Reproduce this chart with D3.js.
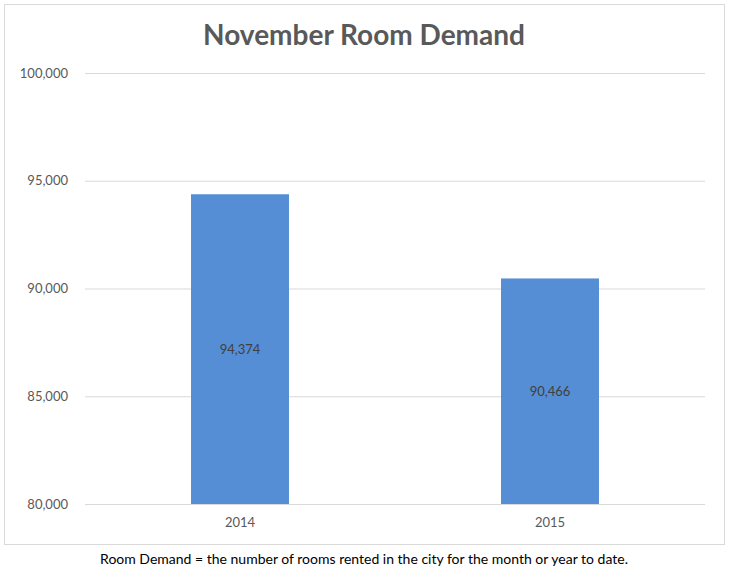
<!DOCTYPE html>
<html>
<head>
<meta charset="utf-8">
<script src="https://cdn.jsdelivr.net/npm/d3@7"></script>
<style>
  body { margin: 0; background: #fff; }
  svg { display: block; font-family: Lato, "Open Sans", sans-serif; }
</style>
</head>
<body>
<div id="chart"></div>
<script>
var years = ["2014", "2015"];
var demand = [94374, 90466];
var yTicks = [80000, 85000, 90000, 95000, 100000];

var W = 729, H = 573;
var margin = { top: 73, right: 24, bottom: 69, left: 85 },
    width = W - margin.left - margin.right,
    height = H - margin.top - margin.bottom;

var svg = d3.select("#chart")
    .append("svg")
    .attr("width", W)
    .attr("height", H);

// chart frame
svg.append("rect")
    .attr("x", 4.5).attr("y", 4.5)
    .attr("width", 720).attr("height", 540)
    .attr("fill", "#fff")
    .attr("stroke", "#d9d9d9");

svg.append("text")
    .attr("x", 364)
    .attr("y", 45)
    .attr("text-anchor", "middle")
    .style("font-size", "28px")
    .style("font-weight", "bold")
    .style("fill", "#595959")
    .text("November Room Demand");

var g = svg.append("g")
    .attr("transform", "translate(" + margin.left + "," + margin.top + ")");

var x = d3.scaleBand()
    .domain(years)
    .range([0, width])
    .paddingInner(0.684)
    .paddingOuter(0.342);

var y = d3.scaleLinear()
    .domain([80000, 100000])
    .range([height, 0]);

var fmt = d3.format(",");

var yAxis = g.append("g")
    .call(d3.axisLeft(y).tickValues(yTicks).tickFormat(fmt).tickSize(-width).tickPadding(17));
yAxis.select(".domain").remove();
yAxis.selectAll("line").attr("stroke", "#d9d9d9");
yAxis.selectAll("text").style("font-size", "13px").style("fill", "#595959")
    .style("font-family", "Lato, 'Open Sans', sans-serif");

var xAxis = g.append("g")
    .attr("transform", "translate(0," + height + ")")
    .call(d3.axisBottom(x).tickSize(0).tickPadding(14));
xAxis.select(".domain").remove();
xAxis.selectAll("text").style("font-size", "13px").style("fill", "#595959")
    .style("font-family", "Lato, 'Open Sans', sans-serif");

var data = years.map(function (d, i) { return { year: d, value: demand[i] }; });

g.selectAll(".bar")
    .data(data)
    .enter()
    .append("rect")
    .attr("class", "bar")
    .attr("x", function (d) { return x(d.year); })
    .attr("y", function (d) { return y(d.value); })
    .attr("width", x.bandwidth())
    .attr("height", function (d) { return height - y(d.value); })
    .attr("fill", "#558ed5");

g.selectAll(".lbl")
    .data(data)
    .enter()
    .append("text")
    .attr("class", "lbl")
    .attr("x", function (d) { return x(d.year) + x.bandwidth() / 2; })
    .attr("y", function (d) { return (y(d.value) + height) / 2 + 5; })
    .attr("text-anchor", "middle")
    .style("font-size", "13px")
    .style("fill", "#404040")
    .text(function (d) { return fmt(d.value); });

svg.append("text")
    .attr("x", 364)
    .attr("y", 564)
    .attr("text-anchor", "middle")
    .style("font-size", "14px")
    .style("fill", "#000")
    .text("Room Demand = the number of rooms rented in the city for the month or year to date.");
</script>
</body>
</html>
